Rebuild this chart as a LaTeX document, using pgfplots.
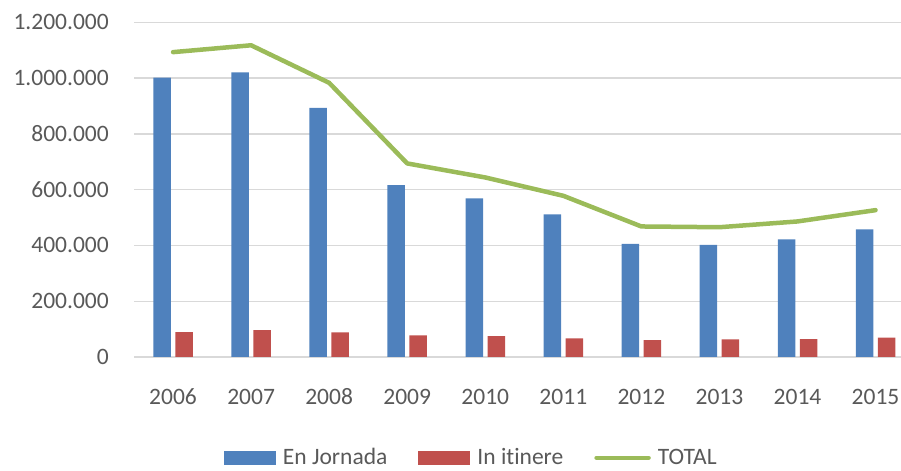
\documentclass[border=0pt]{standalone}
\usepackage{fontspec}
\setmainfont{Carlito}[Ligatures={NoCommon}]
\usepackage{pgfplots}
\pgfplotsset{compat=1.18}
\definecolor{cblue}{HTML}{4F81BD}
\definecolor{cred}{HTML}{C0504D}
\definecolor{cgreen}{HTML}{9BBB59}
\definecolor{cgrid}{HTML}{D9D9D9}
\definecolor{ctext}{HTML}{595959}
\begin{document}
\begin{tikzpicture}
\begin{axis}[
  at={(134bp,114bp)}, anchor=south west,
  scale only axis, width=767bp, height=334.7bp,
  xmin=-0.5, xmax=9.326, ymin=0, ymax=1200000,
  axis line style={draw=none},
  major tick length=0pt,
  xtick={0,...,9},
  xticklabels={2006,2007,2008,2009,2010,2011,2012,2013,2014,2015},
  ytick={0,200000,400000,600000,800000,1000000,1200000},
  scaled y ticks=false,
  ymajorgrids, grid style={color=cgrid, line width=1.3bp},
  tick label style={font=\fontsize{23.6}{28}\selectfont, text=ctext},
  yticklabel style={/pgf/number format/.cd, fixed, 1000 sep={.}, assume math mode=true, /tikz/.cd, inner sep=0pt, anchor=east, xshift=-25bp},
  xticklabel style={inner sep=0pt, anchor=center, yshift=-40bp},
  legend columns=3,
  legend style={draw=none, fill=none, inner sep=0pt, outer sep=0pt,
    at={(axis description cs:0.1173,-0.3200)}, anchor=base west,
    font=\fontsize{23.6}{28}\selectfont, text=ctext,
    nodes={inner sep=0pt, anchor=base},
    column sep=7bp,
    /tikz/every even column/.append style={column sep=31bp}},
]
\addplot[ybar, bar width=17.5bp, bar shift=-11bp, fill=cblue, draw=none,
  legend image code/.code={\fill[cblue] (0bp,-0.7bp) rectangle (52bp,13.3bp);}]
  coordinates {(0,1002000) (1,1020900) (2,893000) (3,616000) (4,568500) (5,511000) (6,405900) (7,402000) (8,421500) (9,457400)};
\addlegendentry{En Jornada}
\addplot[ybar, bar width=17.5bp, bar shift=11bp, fill=cred, draw=none,
  legend image code/.code={\fill[cred] (0bp,-0.7bp) rectangle (52bp,13.3bp);}]
  coordinates {(0,89500) (1,96700) (2,88400) (3,77600) (4,75200) (5,66900) (6,60900) (7,63300) (8,64500) (9,69100)};
\addlegendentry{In itinere}
\addplot[sharp plot, color=cgreen, line width=4.5bp, line cap=round, line join=round, mark=none,
  legend image code/.code={\draw[cgreen, line width=4.5bp, line cap=round] (2bp,6.3bp) -- (54bp,6.3bp);}]
  coordinates {(0,1093000) (1,1117600) (2,983000) (3,694000) (4,643700) (5,577900) (6,468000) (7,465300) (8,486000) (9,526500)};
\addlegendentry{TOTAL}
\end{axis}
\pgfresetboundingbox
\path[use as bounding box] (0,0) rectangle (901bp,471bp);
\end{tikzpicture}
\end{document}
